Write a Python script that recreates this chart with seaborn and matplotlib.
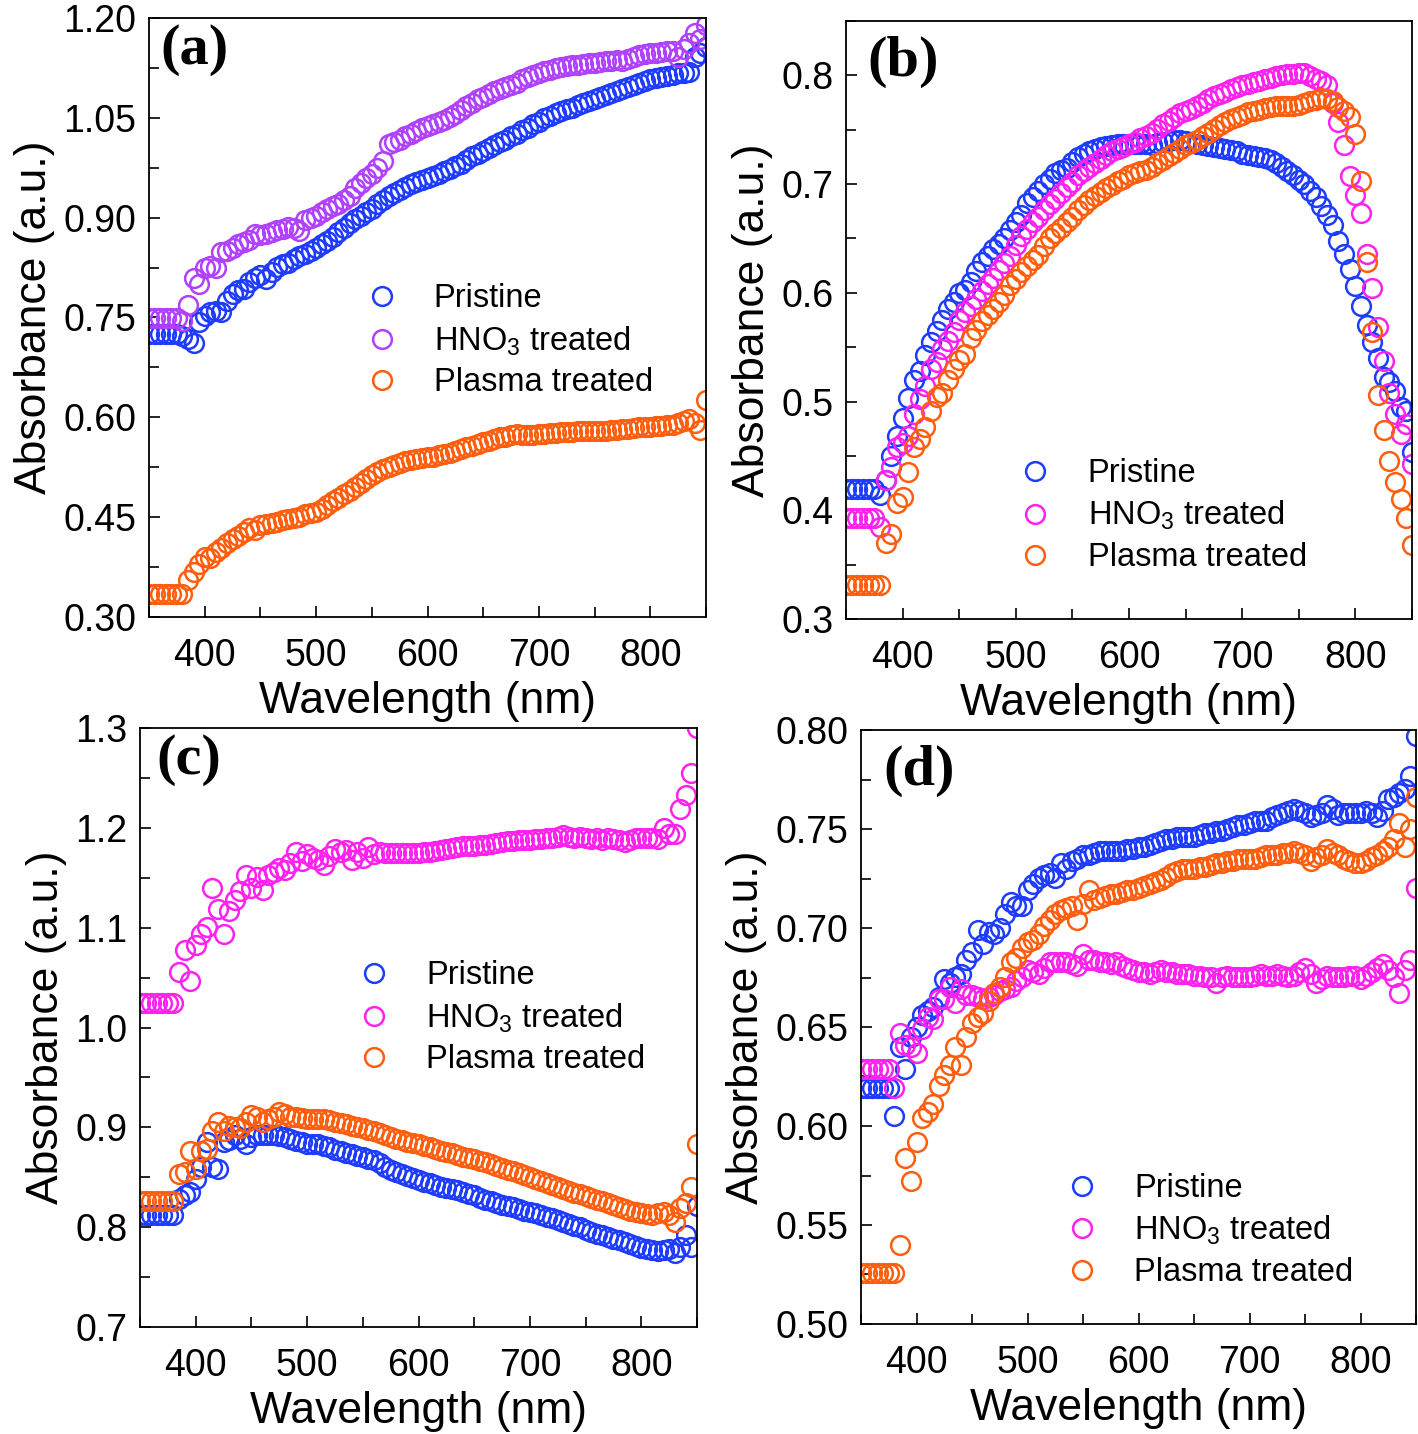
import numpy as np
import pandas as pd
import seaborn as sns
import matplotlib
matplotlib.use('Agg')
import matplotlib.pyplot as plt
from matplotlib.ticker import MultipleLocator, AutoMinorLocator, FormatStrFormatter

# wavelength grid (nm), one reading every 5 nm
wavelength = np.arange(350, 851, 5)

# panel (a)
a_pristine = [0.725, 0.725, 0.725, 0.725, 0.725, 0.725, 0.722, 0.718, 0.711, 0.743,
              0.752, 0.759, 0.760, 0.758, 0.775, 0.785, 0.791, 0.793, 0.804, 0.810,
              0.814, 0.808, 0.819, 0.826, 0.830, 0.832, 0.838, 0.842, 0.845, 0.850,
              0.855, 0.860, 0.865, 0.871, 0.879, 0.885, 0.892, 0.898, 0.903, 0.908,
              0.913, 0.920, 0.927, 0.932, 0.937, 0.941, 0.946, 0.950, 0.954, 0.957,
              0.959, 0.963, 0.966, 0.970, 0.973, 0.977, 0.981, 0.987, 0.992, 0.996,
              1.000, 1.004, 1.009, 1.013, 1.017, 1.022, 1.026, 1.031, 1.035, 1.040,
              1.044, 1.049, 1.053, 1.057, 1.060, 1.063, 1.065, 1.069, 1.072, 1.075,
              1.078, 1.081, 1.084, 1.088, 1.091, 1.094, 1.097, 1.100, 1.103, 1.106,
              1.108, 1.110, 1.111, 1.113, 1.115, 1.117, 1.118, 1.119, 1.142, 1.148,
              1.156]
a_hno3 = [0.749, 0.749, 0.749, 0.749, 0.749, 0.749, 0.745, 0.769, 0.810, 0.800,
          0.824, 0.827, 0.825, 0.848, 0.850, 0.855, 0.860, 0.863, 0.866, 0.875,
          0.874, 0.876, 0.879, 0.881, 0.883, 0.886, 0.885, 0.880, 0.896, 0.899,
          0.903, 0.908, 0.913, 0.917, 0.920, 0.927, 0.933, 0.944, 0.952, 0.960,
          0.966, 0.975, 0.985, 1.010, 1.013, 1.017, 1.022, 1.026, 1.030, 1.035,
          1.038, 1.041, 1.044, 1.047, 1.051, 1.056, 1.062, 1.068, 1.073, 1.078,
          1.082, 1.086, 1.090, 1.094, 1.097, 1.100, 1.103, 1.108, 1.112, 1.115,
          1.118, 1.120, 1.122, 1.125, 1.127, 1.128, 1.129, 1.130, 1.131, 1.132,
          1.133, 1.134, 1.135, 1.136, 1.137, 1.135, 1.138, 1.141, 1.144, 1.146,
          1.147, 1.148, 1.149, 1.150, 1.151, 1.142, 1.154, 1.163, 1.178, 1.168,
          1.190]
a_plasma = [0.335, 0.335, 0.335, 0.335, 0.335, 0.335, 0.335, 0.356, 0.368, 0.380,
            0.390, 0.388, 0.397, 0.404, 0.411, 0.417, 0.421, 0.428, 0.434, 0.431,
            0.438, 0.440, 0.441, 0.443, 0.445, 0.447, 0.448, 0.451, 0.455, 0.456,
            0.458, 0.463, 0.469, 0.474, 0.479, 0.485, 0.490, 0.496, 0.501, 0.507,
            0.513, 0.518, 0.523, 0.526, 0.529, 0.532, 0.534, 0.536, 0.538, 0.539,
            0.540, 0.541, 0.543, 0.545, 0.547, 0.550, 0.552, 0.555, 0.557, 0.560,
            0.563, 0.565, 0.568, 0.570, 0.571, 0.573, 0.575, 0.574, 0.573, 0.574,
            0.575, 0.575, 0.576, 0.577, 0.578, 0.578, 0.578, 0.579, 0.579, 0.579,
            0.579, 0.580, 0.580, 0.581, 0.581, 0.582, 0.583, 0.584, 0.585, 0.585,
            0.586, 0.587, 0.587, 0.588, 0.588, 0.592, 0.595, 0.598, 0.592, 0.581,
            0.626]

# panel (b)
b_pristine = [0.420, 0.420, 0.420, 0.420, 0.420, 0.420, 0.414, 0.428, 0.450, 0.468,
              0.485, 0.503, 0.520, 0.528, 0.543, 0.555, 0.565, 0.575, 0.585, 0.592,
              0.600, 0.603, 0.610, 0.620, 0.628, 0.634, 0.640, 0.645, 0.650, 0.658,
              0.665, 0.672, 0.683, 0.688, 0.694, 0.700, 0.705, 0.710, 0.713, 0.715,
              0.720, 0.725, 0.728, 0.730, 0.732, 0.734, 0.735, 0.736, 0.737, 0.737,
              0.737, 0.737, 0.737, 0.737, 0.736, 0.738, 0.739, 0.740, 0.741, 0.741,
              0.740, 0.738, 0.737, 0.736, 0.735, 0.734, 0.733, 0.732, 0.731, 0.730,
              0.728, 0.727, 0.726, 0.725, 0.724, 0.722, 0.719, 0.716, 0.712, 0.708,
              0.704, 0.700, 0.694, 0.688, 0.680, 0.672, 0.662, 0.648, 0.636, 0.622,
              0.606, 0.588, 0.570, 0.555, 0.540, 0.523, 0.518, 0.510, 0.495, 0.491,
              0.454]
b_hno3 = [0.393, 0.393, 0.393, 0.393, 0.393, 0.393, 0.385, 0.428, 0.440, 0.458,
          0.462, 0.468, 0.489, 0.502, 0.514, 0.530, 0.536, 0.548, 0.556, 0.564,
          0.575, 0.582, 0.588, 0.594, 0.602, 0.608, 0.614, 0.621, 0.627, 0.634,
          0.644, 0.652, 0.659, 0.665, 0.670, 0.676, 0.682, 0.686, 0.692, 0.697,
          0.702, 0.708, 0.712, 0.716, 0.719, 0.723, 0.727, 0.730, 0.732, 0.734,
          0.737, 0.739, 0.742, 0.744, 0.747, 0.751, 0.755, 0.758, 0.762, 0.765,
          0.767, 0.769, 0.772, 0.775, 0.778, 0.781, 0.783, 0.785, 0.787, 0.789,
          0.791, 0.792, 0.794, 0.795, 0.797, 0.798, 0.799, 0.800, 0.801, 0.801,
          0.802, 0.802, 0.799, 0.797, 0.795, 0.791, 0.775, 0.757, 0.736, 0.707,
          0.690, 0.673, 0.636, 0.604, 0.569, 0.537, 0.508, 0.489, 0.470, 0.479,
          0.443]
b_plasma = [0.331, 0.331, 0.331, 0.331, 0.331, 0.331, 0.331, 0.370, 0.378, 0.407,
            0.412, 0.435, 0.458, 0.466, 0.477, 0.491, 0.504, 0.508, 0.520, 0.530,
            0.538, 0.544, 0.558, 0.566, 0.574, 0.580, 0.585, 0.592, 0.598, 0.607,
            0.613, 0.619, 0.625, 0.630, 0.635, 0.643, 0.650, 0.655, 0.660, 0.665,
            0.670, 0.676, 0.681, 0.685, 0.689, 0.693, 0.696, 0.699, 0.703, 0.705,
            0.708, 0.710, 0.712, 0.713, 0.716, 0.719, 0.722, 0.726, 0.729, 0.732,
            0.736, 0.738, 0.741, 0.744, 0.747, 0.751, 0.754, 0.757, 0.760, 0.762,
            0.764, 0.766, 0.767, 0.768, 0.770, 0.771, 0.772, 0.772, 0.772, 0.772,
            0.773, 0.775, 0.776, 0.777, 0.779, 0.778, 0.776, 0.771, 0.767, 0.762,
            0.746, 0.703, 0.628, 0.564, 0.506, 0.474, 0.445, 0.426, 0.410, 0.393,
            0.368]

# panel (c)
c_pristine = [0.812, 0.812, 0.812, 0.812, 0.812, 0.812, 0.812, 0.828, 0.832, 0.835,
              0.848, 0.860, 0.885, 0.860, 0.858, 0.885, 0.887, 0.892, 0.888, 0.883,
              0.890, 0.892, 0.892, 0.892, 0.892, 0.891, 0.890, 0.888, 0.886, 0.885,
              0.883, 0.883, 0.883, 0.881, 0.880, 0.877, 0.876, 0.874, 0.873, 0.871,
              0.870, 0.868, 0.867, 0.864, 0.860, 0.857, 0.855, 0.853, 0.851, 0.849,
              0.847, 0.845, 0.844, 0.842, 0.840, 0.839, 0.838, 0.837, 0.835, 0.833,
              0.832, 0.829, 0.827, 0.826, 0.824, 0.822, 0.821, 0.820, 0.818, 0.816,
              0.815, 0.814, 0.812, 0.810, 0.809, 0.807, 0.805, 0.803, 0.801, 0.800,
              0.797, 0.795, 0.793, 0.792, 0.790, 0.788, 0.787, 0.785, 0.783, 0.781,
              0.779, 0.778, 0.777, 0.776, 0.777, 0.778, 0.774, 0.780, 0.792, 0.780,
              0.821]
c_hno3 = [1.025, 1.025, 1.025, 1.025, 1.025, 1.025, 1.025, 1.056, 1.078, 1.047,
          1.083, 1.094, 1.101, 1.140, 1.119, 1.094, 1.117, 1.128, 1.137, 1.153,
          1.140, 1.151, 1.138, 1.153, 1.156, 1.160, 1.158, 1.165, 1.176, 1.167,
          1.174, 1.170, 1.168, 1.163, 1.172, 1.179, 1.176, 1.178, 1.168, 1.176,
          1.170, 1.181, 1.174, 1.176, 1.175, 1.175, 1.175, 1.175, 1.175, 1.175,
          1.175, 1.176, 1.176, 1.177, 1.178, 1.179, 1.180, 1.181, 1.182, 1.182,
          1.182, 1.183, 1.183, 1.184, 1.185, 1.186, 1.187, 1.187, 1.188, 1.188,
          1.188, 1.189, 1.189, 1.190, 1.190, 1.191, 1.193, 1.191, 1.190, 1.191,
          1.190, 1.189, 1.190, 1.188, 1.190, 1.189, 1.188, 1.186, 1.188, 1.190,
          1.190, 1.190, 1.190, 1.189, 1.200, 1.194, 1.194, 1.219, 1.233, 1.255,
          1.300]
c_plasma = [0.826, 0.826, 0.826, 0.826, 0.826, 0.826, 0.826, 0.853, 0.855, 0.876,
            0.858, 0.876, 0.878, 0.896, 0.905, 0.896, 0.901, 0.900, 0.899, 0.905,
            0.912, 0.910, 0.905, 0.908, 0.910, 0.915, 0.913, 0.910, 0.910, 0.909,
            0.908, 0.908, 0.908, 0.908, 0.907, 0.905, 0.904, 0.903, 0.901, 0.900,
            0.899, 0.897, 0.896, 0.894, 0.892, 0.890, 0.888, 0.887, 0.885, 0.884,
            0.883, 0.881, 0.880, 0.878, 0.876, 0.875, 0.874, 0.872, 0.870, 0.869,
            0.868, 0.866, 0.865, 0.863, 0.861, 0.859, 0.857, 0.856, 0.854, 0.852,
            0.850, 0.848, 0.846, 0.844, 0.842, 0.840, 0.838, 0.836, 0.834, 0.833,
            0.831, 0.829, 0.827, 0.826, 0.824, 0.822, 0.820, 0.818, 0.816, 0.815,
            0.814, 0.813, 0.812, 0.814, 0.815, 0.812, 0.805, 0.819, 0.824, 0.840,
            0.883]

# panel (d)
d_pristine = [0.619, 0.619, 0.619, 0.619, 0.619, 0.619, 0.605, 0.640, 0.629, 0.645,
              0.650, 0.656, 0.658, 0.660, 0.665, 0.674, 0.672, 0.675, 0.677, 0.684,
              0.688, 0.699, 0.692, 0.698, 0.697, 0.700, 0.707, 0.713, 0.711, 0.711,
              0.719, 0.722, 0.725, 0.727, 0.728, 0.725, 0.733, 0.730, 0.734, 0.735,
              0.737, 0.737, 0.738, 0.739, 0.739, 0.739, 0.739, 0.739, 0.740, 0.740,
              0.741, 0.741, 0.742, 0.743, 0.744, 0.745, 0.745, 0.746, 0.746, 0.746,
              0.746, 0.747, 0.748, 0.748, 0.749, 0.749, 0.750, 0.751, 0.752, 0.752,
              0.753, 0.754, 0.754, 0.754, 0.756, 0.757, 0.758, 0.759, 0.760, 0.759,
              0.758, 0.756, 0.757, 0.758, 0.762, 0.760, 0.757, 0.758, 0.758, 0.758,
              0.758, 0.759, 0.758, 0.756, 0.759, 0.765, 0.766, 0.768, 0.770, 0.777,
              0.797]
d_hno3 = [0.629, 0.629, 0.629, 0.629, 0.629, 0.629, 0.619, 0.647, 0.641, 0.640,
          0.637, 0.649, 0.655, 0.654, 0.664, 0.664, 0.670, 0.662, 0.669, 0.666,
          0.666, 0.665, 0.664, 0.665, 0.666, 0.668, 0.669, 0.670, 0.673, 0.675,
          0.679, 0.678, 0.677, 0.680, 0.683, 0.683, 0.683, 0.683, 0.682, 0.681,
          0.687, 0.684, 0.684, 0.683, 0.683, 0.682, 0.683, 0.681, 0.680, 0.679,
          0.678, 0.678, 0.677, 0.678, 0.679, 0.678, 0.678, 0.677, 0.677, 0.677,
          0.676, 0.676, 0.675, 0.675, 0.672, 0.675, 0.676, 0.675, 0.675, 0.675,
          0.675, 0.676, 0.677, 0.676, 0.676, 0.677, 0.676, 0.675, 0.676, 0.678,
          0.680, 0.677, 0.672, 0.674, 0.676, 0.675, 0.675, 0.675, 0.676, 0.676,
          0.674, 0.676, 0.678, 0.680, 0.682, 0.679, 0.675, 0.667, 0.679, 0.684,
          0.720]
d_plasma = [0.526, 0.526, 0.526, 0.526, 0.526, 0.526, 0.526, 0.540, 0.584, 0.572,
            0.592, 0.604, 0.607, 0.611, 0.620, 0.626, 0.631, 0.640, 0.631, 0.645,
            0.652, 0.655, 0.657, 0.663, 0.667, 0.670, 0.675, 0.683, 0.685, 0.690,
            0.693, 0.694, 0.697, 0.701, 0.704, 0.707, 0.709, 0.710, 0.711, 0.704,
            0.712, 0.719, 0.714, 0.715, 0.716, 0.717, 0.717, 0.718, 0.719, 0.719,
            0.720, 0.721, 0.722, 0.723, 0.724, 0.726, 0.728, 0.729, 0.730, 0.730,
            0.730, 0.731, 0.731, 0.732, 0.733, 0.733, 0.734, 0.734, 0.735, 0.735,
            0.735, 0.735, 0.736, 0.737, 0.737, 0.737, 0.738, 0.738, 0.739, 0.738,
            0.737, 0.734, 0.736, 0.737, 0.740, 0.738, 0.737, 0.735, 0.734, 0.733,
            0.733, 0.734, 0.736, 0.737, 0.739, 0.741, 0.745, 0.753, 0.741, 0.750,
            0.766]

labels = ['Pristine', 'HNO$_3$ treated', 'Plasma treated']

sns.set_style('ticks')
plt.rcParams['font.family'] = ['Liberation Sans', 'DejaVu Sans']
plt.rcParams['mathtext.fontset'] = 'custom'
plt.rcParams['mathtext.rm'] = 'Liberation Sans'
plt.rcParams['mathtext.it'] = 'Liberation Sans:italic'
plt.rcParams['axes.linewidth'] = 1.3
plt.rcParams['axes.edgecolor'] = 'black'
plt.rcParams['text.color'] = 'black'
plt.rcParams['axes.labelcolor'] = 'black'
plt.rcParams['xtick.color'] = 'black'
plt.rcParams['ytick.color'] = 'black'

MS, MEW = 13.5, 1.8

W, H = 1418, 1434
fig = plt.figure(figsize=(W / 100, H / 100), dpi=100)

# (tag, series, colours, ylim, ytick step, fmt, axes box in px [l, r, top, bottom], legend anchor, tag pos)
panels = [
    ('(a)', [a_pristine, a_hno3, a_plasma], ['#1e3cff', '#b041ff', '#ff5e0e'],
     (0.30, 1.20), 0.15, '%.2f', (149, 706, 18, 617), (0.359, 0.557), (0.02, 0.99)),
    ('(b)', [b_pristine, b_hno3, b_plasma], ['#1e3cff', '#ff22ee', '#ff5e0e'],
     (0.30, 0.85), 0.10, '%.1f', (846, 1412, 21, 619), (0.277, 0.269), (0.037, 0.975)),
    ('(c)', [c_pristine, c_hno3, c_plasma], ['#1e3cff', '#ff22ee', '#ff5e0e'],
     (0.70, 1.30), 0.10, '%.1f', (140, 697, 728, 1327), (0.362, 0.612), (0.03, 0.99)),
    ('(d)', [d_pristine, d_hno3, d_plasma], ['#1e3cff', '#ff22ee', '#ff5e0e'],
     (0.50, 0.80), 0.05, '%.2f', (861, 1416, 730, 1324), (0.339, 0.254), (0.04, 0.975)),
]

for tag, series, colors, ylim, ystep, fmt, box, leg_xy, tag_xy in panels:
    l, r, t, b = box
    ax = fig.add_axes([l / W, 1 - b / H, (r - l) / W, (b - t) / H])

    df = pd.concat([pd.DataFrame({'Wavelength': wavelength, 'Absorbance': s, 'Sample': lab})
                    for s, lab in zip(series, labels)])
    sns.lineplot(data=df, x='Wavelength', y='Absorbance', hue='Sample',
                 palette=colors, marker='o', linestyle='', mfc='none', ms=MS,
                 mew=MEW, errorbar=None, sort=False, ax=ax, legend=False)
    # seaborn paints marker edges white; give them the series colour
    for line, c in zip(ax.lines, colors):
        line.set_markeredgecolor(c)
        line.set_markerfacecolor('none')
        line.set_label(None)

    ax.set_xlim(350, 850)
    ax.set_ylim(*ylim)
    ax.xaxis.set_major_locator(MultipleLocator(100))
    ax.xaxis.set_minor_locator(AutoMinorLocator(2))
    ax.yaxis.set_major_locator(MultipleLocator(ystep))
    ax.yaxis.set_minor_locator(AutoMinorLocator(2))
    ax.yaxis.set_major_formatter(FormatStrFormatter(fmt))
    ax.tick_params(which='both', direction='in', top=False, right=False,
                   width=1.2, colors='black')
    ax.tick_params(which='major', length=8, labelsize=27)
    ax.tick_params(which='minor', length=7)
    ax.tick_params(axis='y', which='major', pad=9)
    ax.tick_params(axis='x', which='major', pad=15)
    ax.set_xlabel('Wavelength (nm)', fontsize=32, labelpad=5)
    ax.set_ylabel('Absorbance (a.u.)', fontsize=32, labelpad=6)

    handles = [plt.Line2D([], [], marker='o', linestyle='', mfc='none', mec=c,
                          ms=MS, mew=MEW) for c in colors]
    ax.legend(handles, labels, loc='upper left', bbox_to_anchor=leg_xy, frameon=False,
              fontsize=23.5, handlelength=2.0, handletextpad=0.6, labelspacing=0.3,
              borderpad=0, borderaxespad=0)

    ax.text(tag_xy[0], tag_xy[1], tag, transform=ax.transAxes, ha='left', va='top',
            fontsize=42, fontweight='bold', family='Liberation Serif', color='black')

fig.savefig('out.png', dpi=100)
